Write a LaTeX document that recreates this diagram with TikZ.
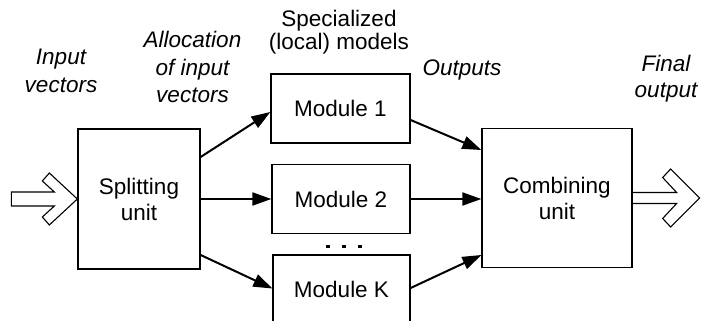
\documentclass[tikz,border=0pt]{standalone}
\usepackage{fontspec}
\setmainfont{Liberation Sans}
\usetikzlibrary{arrows.meta}
\tikzset{
  box/.style={draw, line width=1.3pt, inner sep=0pt, align=center},
  arr/.style={line width=2pt, -{Triangle[length=19pt,width=13pt]}},
  hollow/.style={line width=1.1pt, line join=miter},
  lbl/.style={inner sep=0pt, anchor=base},
}
\newcommand{\lines}[2]{\begin{tabular}[t]{@{}c@{}}#1\\#2\end{tabular}}
\begin{document}
\begin{tikzpicture}[x=1pt,y=-1pt]
\clip (0,0) rectangle (701,321);
\fill[white] (0,0) rectangle (701,321);
\fontsize{22.5}{26}\selectfont
% boxes
\node[box, minimum width=122pt, minimum height=140pt] (split) at (139,199)
  {\fontsize{22.5}{25.5}\selectfont Splitting\\unit};
\node[box, minimum width=139pt, minimum height=69pt] (m1) at (340.5,108.5) {Module 1};
\node[box, minimum width=138pt, minimum height=69pt] (m2) at (341,199) {Module 2};
\node[box, minimum width=137pt, minimum height=69pt] (mK) at (341.5,289.5) {Module K};
\node[box, minimum width=150pt, minimum height=139pt] (comb) at (557,198)
  {\fontsize{22.5}{25.5}\selectfont Combining\\unit};
% dots
\foreach \i/\xx in {1/328,2/344,3/360}
  \fill (\xx-1.6,244.5) rectangle (\xx+1.6,247.5);
% arrows
\draw[arr] ([yshift=42pt]split.east) -- ([yshift=-3.5pt]m1.west);
\draw[arr] (split.east) -- (m2.west);
\draw[arr] ([yshift=-56pt]split.east) -- ([yshift=1pt]mK.west);
\draw[arr] ([yshift=-11.5pt]m1.east) -- ([yshift=48pt]comb.west);
\draw[arr] (m2.east) -- (comb.west |- m2.east);
\draw[arr] ([yshift=1.5pt]mK.east) -- ([yshift=-57pt]comb.west);
% hollow input arrow
\draw[hollow, shift={(split.west)}]
  (-66,-7) -- (-23,-7) -- (-35,-18) -- (-28,-26) -- (0,0)
  -- (-28,26) -- (-35,18) -- (-23,7) -- (-66,7) -- cycle;
% hollow output arrow
\draw[hollow, shift={(comb.east)}]
  (0,-5.5) -- (44,-5.5) -- (30,-20.5) -- (38,-29) -- (67,0)
  -- (38,29) -- (30,20.5) -- (44,5.5) -- (0,5.5);
% labels
\node[lbl] (linput) at (61,64)
  {\renewcommand{\arraystretch}{1.08}\itshape\lines{Input}{vectors}};
\node[lbl] (lalloc) at (192.5,48)
  {\renewcommand{\arraystretch}{1.04}\itshape\begin{tabular}[t]{@{}c@{}}Allocation\\of input\\vectors\end{tabular}};
\node[lbl] (lspec) at (339,27)
  {\renewcommand{\arraystretch}{0.82}\lines{Specialized}{(local) models}};
\node[lbl] (lout) at (462,75) {\itshape Outputs};
\node[lbl] (lfinal) at (666,71)
  {\renewcommand{\arraystretch}{1.0}\itshape\lines{Final}{output}};
\end{tikzpicture}
\end{document}
